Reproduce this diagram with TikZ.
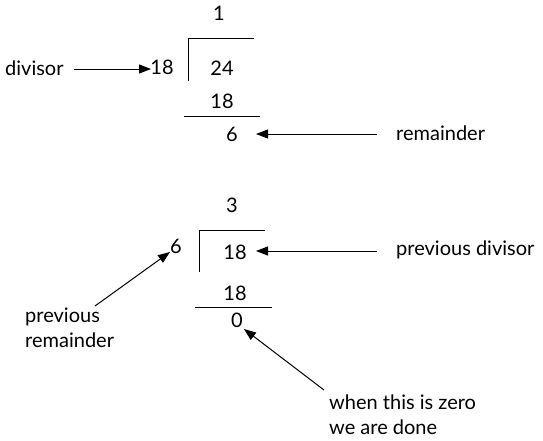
\documentclass[tikz,border=0pt]{standalone}
\usepackage{fontspec}
\setmainfont{Lato}
\usetikzlibrary{arrows.meta}
\begin{document}
\begin{tikzpicture}[x=1pt,y=-1pt,
  txt/.style={inner sep=1pt,font=\fontsize{20}{24.5}\selectfont},
  lbl/.style={txt,align=left},
  arr/.style={-{Triangle[length=12pt,width=9pt]},line width=1pt},
  rule/.style={line width=1pt}]
\useasboundingbox (0,0) rectangle (543,440);
% first division
\node[txt] (q1) at (219,13) {1};
\node[txt] (d1) at (162,67) {18};
\node[txt] (n1) at (222,68) {24};
\node[txt] (s1) at (222,101) {18};
\node[txt] (r1) at (232,134) {6};
\draw[rule] (188,81) -- (188,38) -- (254,38);
\draw[rule] (184,116) -- (260,116);
\node[txt,anchor=west] (ldiv) at (4,68) {divisor};
\node[txt,anchor=west] (lrem) at (395,133) {remainder};
\coordinate (a1s) at (74,69);
\coordinate (a1e) at (151,69);
\draw[arr] (a1s) -- (a1e);
\coordinate (a2s) at (377,134);
\coordinate (a2e) at (256,134);
\draw[arr] (a2s) -- (a2e);
% second division
\node[txt] (q2) at (232,205) {3};
\node[txt] (d2) at (176,246) {6};
\node[txt] (n2) at (235,252) {18};
\node[txt] (s2) at (235,293) {18};
\node[txt] (r2) at (237,320) {0};
\draw[rule] (199,272) -- (199,230) -- (265,230);
\draw[rule] (195,307) -- (272,307);
\node[txt,anchor=west] (lpd) at (395,250) {previous divisor};
\node[lbl,anchor=north west] (lpr) at (24,307) {previous\\remainder};
\node[lbl,anchor=north west] (ldone) at (328,394) {when this is zero\\we are done};
\coordinate (a3s) at (377,251);
\coordinate (a3e) at (256,251);
\draw[arr] (a3s) -- (a3e);
\coordinate (a4s) at (95,306);
\coordinate (a4e) at (170,252);
\draw[arr] (a4s) -- (a4e);
\coordinate (a5s) at (324,390);
\coordinate (a5e) at (244,329);
\draw[arr] (a5s) -- (a5e);
\end{tikzpicture}
\end{document}
